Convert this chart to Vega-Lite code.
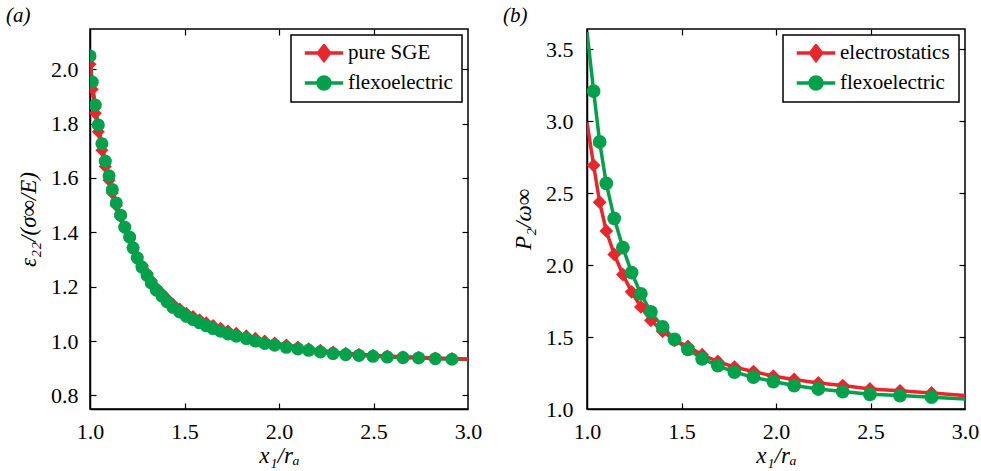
{
  "$schema": "https://vega.github.io/schema/vega-lite/v6.json",
  "padding": {"left": 5, "top": 4, "right": 5, "bottom": 5},
  "spacing": 19,
  "resolve": {"scale": {"color": "independent"}, "legend": {"color": "independent"}},
  "config": {
    "font": "Liberation Serif",
    "view": {"stroke": "black", "strokeWidth": 1.5},
    "axis": {
      "domainColor": "black", "domainWidth": 1.5, "tickColor": "black", "tickSize": 6, "tickWidth": 1.2,
      "grid": false, "labelFont": "Liberation Serif", "labelFontSize": 22, "labelColor": "black", "labelFlush": false,
      "titleFont": "Liberation Serif", "titleFontSize": 23, "titleFontWeight": "normal", "titleFontStyle": "italic", "titleColor": "black"
    },
    "legend": {
      "labelFont": "Liberation Serif", "labelFontSize": 21, "labelColor": "black", "strokeColor": "black", "fillColor": "white",
      "padding": 9, "rowPadding": 9, "clipHeight": 18, "symbolOffset": 11, "labelOffset": 11, "orient": "top-right", "offset": 6, "cornerRadius": 0, "strokeWidth": 1.5, "titlePadding": 0
    },
    "title": {"font": "Liberation Serif", "fontSize": 21, "fontStyle": "italic", "fontWeight": "normal", "color": "black", "anchor": "start", "frame": "group", "offset": 2}
  },
  "datasets": {
    "a": [
      {"x": 1.0, "y": 2.049, "series": "flexoelectric", "marker": true},
      {"x": 1.012, "y": 1.953, "series": "flexoelectric", "marker": true},
      {"x": 1.028, "y": 1.868, "series": "flexoelectric", "marker": true},
      {"x": 1.044, "y": 1.795, "series": "flexoelectric", "marker": true},
      {"x": 1.063, "y": 1.726, "series": "flexoelectric", "marker": true},
      {"x": 1.081, "y": 1.662, "series": "flexoelectric", "marker": true},
      {"x": 1.101, "y": 1.608, "series": "flexoelectric", "marker": true},
      {"x": 1.118, "y": 1.557, "series": "flexoelectric", "marker": true},
      {"x": 1.139, "y": 1.508, "series": "flexoelectric", "marker": true},
      {"x": 1.162, "y": 1.463, "series": "flexoelectric", "marker": true},
      {"x": 1.184, "y": 1.419, "series": "flexoelectric", "marker": true},
      {"x": 1.21, "y": 1.382, "series": "flexoelectric", "marker": true},
      {"x": 1.228, "y": 1.343, "series": "flexoelectric", "marker": true},
      {"x": 1.25, "y": 1.306, "series": "flexoelectric", "marker": true},
      {"x": 1.275, "y": 1.272, "series": "flexoelectric", "marker": true},
      {"x": 1.302, "y": 1.242, "series": "flexoelectric", "marker": true},
      {"x": 1.324, "y": 1.214, "series": "flexoelectric", "marker": true},
      {"x": 1.351, "y": 1.187, "series": "flexoelectric", "marker": true},
      {"x": 1.381, "y": 1.165, "series": "flexoelectric", "marker": true},
      {"x": 1.409, "y": 1.144, "series": "flexoelectric", "marker": true},
      {"x": 1.439, "y": 1.124, "series": "flexoelectric", "marker": true},
      {"x": 1.475, "y": 1.107, "series": "flexoelectric", "marker": true},
      {"x": 1.51, "y": 1.091, "series": "flexoelectric", "marker": true},
      {"x": 1.545, "y": 1.079, "series": "flexoelectric", "marker": true},
      {"x": 1.58, "y": 1.067, "series": "flexoelectric", "marker": true},
      {"x": 1.615, "y": 1.056, "series": "flexoelectric", "marker": true},
      {"x": 1.651, "y": 1.046, "series": "flexoelectric", "marker": true},
      {"x": 1.691, "y": 1.036, "series": "flexoelectric", "marker": true},
      {"x": 1.73, "y": 1.026, "series": "flexoelectric", "marker": true},
      {"x": 1.774, "y": 1.018, "series": "flexoelectric", "marker": true},
      {"x": 1.827, "y": 1.009, "series": "flexoelectric", "marker": true},
      {"x": 1.875, "y": 1.0, "series": "flexoelectric", "marker": true},
      {"x": 1.924, "y": 0.991, "series": "flexoelectric", "marker": true},
      {"x": 1.977, "y": 0.985, "series": "flexoelectric", "marker": true},
      {"x": 2.039, "y": 0.977, "series": "flexoelectric", "marker": true},
      {"x": 2.1, "y": 0.971, "series": "flexoelectric", "marker": true},
      {"x": 2.157, "y": 0.966, "series": "flexoelectric", "marker": true},
      {"x": 2.219, "y": 0.96, "series": "flexoelectric", "marker": true},
      {"x": 2.286, "y": 0.954, "series": "flexoelectric", "marker": true},
      {"x": 2.353, "y": 0.95, "series": "flexoelectric", "marker": true},
      {"x": 2.423, "y": 0.947, "series": "flexoelectric", "marker": true},
      {"x": 2.497, "y": 0.944, "series": "flexoelectric", "marker": true},
      {"x": 2.573, "y": 0.941, "series": "flexoelectric", "marker": true},
      {"x": 2.656, "y": 0.939, "series": "flexoelectric", "marker": true},
      {"x": 2.739, "y": 0.938, "series": "flexoelectric", "marker": true},
      {"x": 2.827, "y": 0.935, "series": "flexoelectric", "marker": true},
      {"x": 2.915, "y": 0.933, "series": "flexoelectric", "marker": true},
      {"x": 3.0, "y": 0.932, "series": "flexoelectric", "marker": false},
      {"x": 1.0, "y": 2.018, "series": "pure SGE", "marker": true},
      {"x": 1.012, "y": 1.926, "series": "pure SGE", "marker": true},
      {"x": 1.028, "y": 1.838, "series": "pure SGE", "marker": true},
      {"x": 1.044, "y": 1.77, "series": "pure SGE", "marker": true},
      {"x": 1.063, "y": 1.702, "series": "pure SGE", "marker": true},
      {"x": 1.081, "y": 1.642, "series": "pure SGE", "marker": true},
      {"x": 1.101, "y": 1.592, "series": "pure SGE", "marker": true},
      {"x": 1.118, "y": 1.545, "series": "pure SGE", "marker": true},
      {"x": 1.139, "y": 1.499, "series": "pure SGE", "marker": true},
      {"x": 1.162, "y": 1.457, "series": "pure SGE", "marker": true},
      {"x": 1.184, "y": 1.416, "series": "pure SGE", "marker": true},
      {"x": 1.21, "y": 1.381, "series": "pure SGE", "marker": true},
      {"x": 1.228, "y": 1.345, "series": "pure SGE", "marker": true},
      {"x": 1.25, "y": 1.31, "series": "pure SGE", "marker": true},
      {"x": 1.275, "y": 1.278, "series": "pure SGE", "marker": true},
      {"x": 1.302, "y": 1.249, "series": "pure SGE", "marker": true},
      {"x": 1.324, "y": 1.222, "series": "pure SGE", "marker": true},
      {"x": 1.351, "y": 1.196, "series": "pure SGE", "marker": true},
      {"x": 1.381, "y": 1.175, "series": "pure SGE", "marker": true},
      {"x": 1.409, "y": 1.155, "series": "pure SGE", "marker": true},
      {"x": 1.439, "y": 1.135, "series": "pure SGE", "marker": true},
      {"x": 1.475, "y": 1.118, "series": "pure SGE", "marker": true},
      {"x": 1.51, "y": 1.102, "series": "pure SGE", "marker": true},
      {"x": 1.545, "y": 1.09, "series": "pure SGE", "marker": true},
      {"x": 1.58, "y": 1.078, "series": "pure SGE", "marker": true},
      {"x": 1.615, "y": 1.067, "series": "pure SGE", "marker": true},
      {"x": 1.651, "y": 1.057, "series": "pure SGE", "marker": true},
      {"x": 1.691, "y": 1.047, "series": "pure SGE", "marker": true},
      {"x": 1.73, "y": 1.037, "series": "pure SGE", "marker": true},
      {"x": 1.774, "y": 1.029, "series": "pure SGE", "marker": true},
      {"x": 1.827, "y": 1.019, "series": "pure SGE", "marker": true},
      {"x": 1.875, "y": 1.01, "series": "pure SGE", "marker": true},
      {"x": 1.924, "y": 1.0, "series": "pure SGE", "marker": true},
      {"x": 1.977, "y": 0.993, "series": "pure SGE", "marker": true},
      {"x": 2.039, "y": 0.985, "series": "pure SGE", "marker": true},
      {"x": 2.1, "y": 0.978, "series": "pure SGE", "marker": true},
      {"x": 2.157, "y": 0.972, "series": "pure SGE", "marker": true},
      {"x": 2.219, "y": 0.966, "series": "pure SGE", "marker": true},
      {"x": 2.286, "y": 0.96, "series": "pure SGE", "marker": true},
      {"x": 2.353, "y": 0.955, "series": "pure SGE", "marker": true},
      {"x": 2.423, "y": 0.951, "series": "pure SGE", "marker": true},
      {"x": 2.497, "y": 0.948, "series": "pure SGE", "marker": true},
      {"x": 2.573, "y": 0.945, "series": "pure SGE", "marker": true},
      {"x": 2.656, "y": 0.942, "series": "pure SGE", "marker": true},
      {"x": 2.739, "y": 0.94, "series": "pure SGE", "marker": true},
      {"x": 2.827, "y": 0.938, "series": "pure SGE", "marker": true},
      {"x": 2.915, "y": 0.936, "series": "pure SGE", "marker": true},
      {"x": 3.0, "y": 0.934, "series": "pure SGE", "marker": false}
    ],
    "b": [
      {"x": 1.0, "y": 3.62, "series": "flexoelectric", "marker": false},
      {"x": 1.035, "y": 3.209, "series": "flexoelectric", "marker": true},
      {"x": 1.067, "y": 2.855, "series": "flexoelectric", "marker": true},
      {"x": 1.102, "y": 2.567, "series": "flexoelectric", "marker": true},
      {"x": 1.144, "y": 2.325, "series": "flexoelectric", "marker": true},
      {"x": 1.19, "y": 2.121, "series": "flexoelectric", "marker": true},
      {"x": 1.236, "y": 1.948, "series": "flexoelectric", "marker": true},
      {"x": 1.285, "y": 1.8, "series": "flexoelectric", "marker": true},
      {"x": 1.338, "y": 1.674, "series": "flexoelectric", "marker": true},
      {"x": 1.4, "y": 1.57, "series": "flexoelectric", "marker": true},
      {"x": 1.463, "y": 1.484, "series": "flexoelectric", "marker": true},
      {"x": 1.534, "y": 1.414, "series": "flexoelectric", "marker": true},
      {"x": 1.609, "y": 1.349, "series": "flexoelectric", "marker": true},
      {"x": 1.692, "y": 1.302, "series": "flexoelectric", "marker": true},
      {"x": 1.78, "y": 1.256, "series": "flexoelectric", "marker": true},
      {"x": 1.881, "y": 1.221, "series": "flexoelectric", "marker": true},
      {"x": 1.986, "y": 1.191, "series": "flexoelectric", "marker": true},
      {"x": 2.096, "y": 1.163, "series": "flexoelectric", "marker": true},
      {"x": 2.224, "y": 1.139, "series": "flexoelectric", "marker": true},
      {"x": 2.353, "y": 1.121, "series": "flexoelectric", "marker": true},
      {"x": 2.497, "y": 1.102, "series": "flexoelectric", "marker": true},
      {"x": 2.656, "y": 1.093, "series": "flexoelectric", "marker": true},
      {"x": 2.823, "y": 1.082, "series": "flexoelectric", "marker": true},
      {"x": 3.0, "y": 1.07, "series": "flexoelectric", "marker": false},
      {"x": 1.0, "y": 2.99, "series": "electrostatics", "marker": false},
      {"x": 1.035, "y": 2.693, "series": "electrostatics", "marker": true},
      {"x": 1.067, "y": 2.437, "series": "electrostatics", "marker": true},
      {"x": 1.102, "y": 2.237, "series": "electrostatics", "marker": true},
      {"x": 1.144, "y": 2.074, "series": "electrostatics", "marker": true},
      {"x": 1.19, "y": 1.934, "series": "electrostatics", "marker": true},
      {"x": 1.236, "y": 1.814, "series": "electrostatics", "marker": true},
      {"x": 1.285, "y": 1.709, "series": "electrostatics", "marker": true},
      {"x": 1.338, "y": 1.616, "series": "electrostatics", "marker": true},
      {"x": 1.4, "y": 1.54, "series": "electrostatics", "marker": true},
      {"x": 1.463, "y": 1.477, "series": "electrostatics", "marker": true},
      {"x": 1.534, "y": 1.435, "series": "electrostatics", "marker": true},
      {"x": 1.609, "y": 1.377, "series": "electrostatics", "marker": true},
      {"x": 1.692, "y": 1.33, "series": "electrostatics", "marker": true},
      {"x": 1.78, "y": 1.291, "series": "electrostatics", "marker": true},
      {"x": 1.881, "y": 1.26, "series": "electrostatics", "marker": true},
      {"x": 1.986, "y": 1.228, "series": "electrostatics", "marker": true},
      {"x": 2.096, "y": 1.205, "series": "electrostatics", "marker": true},
      {"x": 2.224, "y": 1.181, "series": "electrostatics", "marker": true},
      {"x": 2.353, "y": 1.163, "series": "electrostatics", "marker": true},
      {"x": 2.497, "y": 1.139, "series": "electrostatics", "marker": true},
      {"x": 2.656, "y": 1.126, "series": "electrostatics", "marker": true},
      {"x": 2.823, "y": 1.112, "series": "electrostatics", "marker": true},
      {"x": 3.0, "y": 1.093, "series": "electrostatics", "marker": false}
    ]
  },
  "hconcat": [
    {
      "width": 378, "height": 380,
      "title": {"text": "(a)", "dx": -84},
      "data": {"name": "a"},
      "layer": [
        {
          "mark": {"type": "line", "strokeWidth": 3.5, "clip": true},
          "encoding": {
            "x": {"field": "x", "type": "quantitative", "scale": {"domain": [1, 3], "nice": false}, "axis": {"values": [1, 1.5, 2, 2.5, 3], "format": ".1f", "title": "x₁/rₐ", "ticks": false, "labelPadding": 12, "titlePadding": 2, "labelFontSize": 22, "titleFontSize": 23, "labelFlush": false}},
            "y": {"field": "y", "type": "quantitative", "scale": {"domain": [0.75, 2.148], "nice": false, "zero": false}, "axis": {"values": [0.8, 1.0, 1.2, 1.4, 1.6, 1.8, 2.0], "format": ".1f", "title": "ε₂₂/(σ∞/E)", "ticks": false, "labelPadding": 12, "titlePadding": 10, "labelFontSize": 22, "titleFontSize": 23}},
            "color": {"field": "series", "type": "nominal", "scale": {"domain": ["pure SGE", "flexoelectric"], "range": ["#e8262c", "#00a14b"]},
              "legend": {"title": null, "symbolSize": 484, "labelFontSize": 21, "encode": {"symbols": {"update": {
                "shape": {"signal": "datum.value === 'pure SGE' ? 'M-1.75,0H1.75M0,-0.66L0.5,0L0,0.66L-0.5,0Z' : 'M-1.75,0H1.75M-0.55,0A0.55,0.55,0,1,1,0.55,0A0.55,0.55,0,1,1,-0.55,0Z'"},
                "stroke": {"signal": "datum.value === 'pure SGE' ? '#e8262c' : '#00a14b'"},
                "fill": {"signal": "datum.value === 'pure SGE' ? '#e8262c' : '#00a14b'"},
                "strokeWidth": {"value": 3.5}, "opacity": {"value": 1}}}}}}
          }
        },
        {
          "transform": [{"filter": "datum.marker && datum.series === 'pure SGE'"}],
          "mark": {"type": "point", "shape": "diamond", "filled": true, "opacity": 1, "size": 170, "clip": true, "color": "#e8262c"},
          "encoding": {
            "x": {"field": "x", "type": "quantitative", "axis": {"orient": "top", "values": [1.5, 2, 2.5], "labels": false, "title": null, "domain": false, "offset": -6}},
            "y": {"field": "y", "type": "quantitative", "axis": {"orient": "right", "values": [0.8, 1.0, 1.2, 1.4, 1.6, 1.8, 2.0], "labels": false, "title": null, "domain": false, "offset": -6}}
          }
        },
        {
          "transform": [{"filter": "datum.marker && datum.series === 'flexoelectric'"}],
          "mark": {"type": "point", "shape": "circle", "filled": true, "opacity": 1, "size": 170, "clip": true, "color": "#00a14b"},
          "encoding": {
            "x": {"field": "x", "type": "quantitative", "axis": {"orient": "bottom", "values": [1.5, 2, 2.5], "labels": false, "title": null, "domain": false, "offset": -6}},
            "y": {"field": "y", "type": "quantitative", "axis": {"orient": "left", "values": [0.8, 1.0, 1.2, 1.4, 1.6, 1.8, 2.0], "labels": false, "title": null, "domain": false, "offset": -6}}
          }
        }
      ],
      "resolve": {"axis": {"x": "independent", "y": "independent"}}
    },
    {
      "width": 378, "height": 380,
      "title": {"text": "(b)", "dx": -84},
      "data": {"name": "b"},
      "layer": [
        {
          "mark": {"type": "line", "strokeWidth": 3.5, "clip": true},
          "encoding": {
            "x": {"field": "x", "type": "quantitative", "scale": {"domain": [1, 3], "nice": false}, "axis": {"values": [1, 1.5, 2, 2.5, 3], "format": ".1f", "title": "x₁/rₐ", "ticks": false, "labelPadding": 12, "titlePadding": 2, "labelFontSize": 22, "titleFontSize": 23, "labelFlush": false}},
            "y": {"field": "y", "type": "quantitative", "scale": {"domain": [1.0, 3.64], "nice": false, "zero": false}, "axis": {"values": [1.0, 1.5, 2.0, 2.5, 3.0, 3.5], "format": ".1f", "title": "P₂/ω∞", "ticks": false, "labelPadding": 14, "titlePadding": 10, "labelFontSize": 22, "titleFontSize": 23}},
            "color": {"field": "series", "type": "nominal", "scale": {"domain": ["electrostatics", "flexoelectric"], "range": ["#e8262c", "#00a14b"]},
              "legend": {"title": null, "symbolSize": 484, "labelFontSize": 21, "encode": {"symbols": {"update": {
                "shape": {"signal": "datum.value === 'electrostatics' ? 'M-1.75,0H1.75M0,-0.66L0.5,0L0,0.66L-0.5,0Z' : 'M-1.75,0H1.75M-0.55,0A0.55,0.55,0,1,1,0.55,0A0.55,0.55,0,1,1,-0.55,0Z'"},
                "stroke": {"signal": "datum.value === 'electrostatics' ? '#e8262c' : '#00a14b'"},
                "fill": {"signal": "datum.value === 'electrostatics' ? '#e8262c' : '#00a14b'"},
                "strokeWidth": {"value": 3.5}, "opacity": {"value": 1}}}}}}
          }
        },
        {
          "transform": [{"filter": "datum.marker && datum.series === 'electrostatics'"}],
          "mark": {"type": "point", "shape": "diamond", "filled": true, "opacity": 1, "size": 190, "clip": true, "color": "#e8262c"},
          "encoding": {
            "x": {"field": "x", "type": "quantitative", "axis": {"orient": "top", "values": [1.5, 2, 2.5], "labels": false, "title": null, "domain": false, "offset": -6}},
            "y": {"field": "y", "type": "quantitative", "axis": {"orient": "right", "values": [1.0, 1.5, 2.0, 2.5, 3.0, 3.5], "labels": false, "title": null, "domain": false, "offset": -6}}
          }
        },
        {
          "transform": [{"filter": "datum.marker && datum.series === 'flexoelectric'"}],
          "mark": {"type": "point", "shape": "circle", "filled": true, "opacity": 1, "size": 190, "clip": true, "color": "#00a14b"},
          "encoding": {
            "x": {"field": "x", "type": "quantitative", "axis": {"orient": "bottom", "values": [1.5, 2, 2.5], "labels": false, "title": null, "domain": false, "offset": -6}},
            "y": {"field": "y", "type": "quantitative", "axis": {"orient": "left", "values": [1.5, 2.0, 2.5, 3.0, 3.5], "labels": false, "title": null, "domain": false, "offset": -6}}
          }
        }
      ],
      "resolve": {"axis": {"x": "independent", "y": "independent"}}
    }
  ]
}
